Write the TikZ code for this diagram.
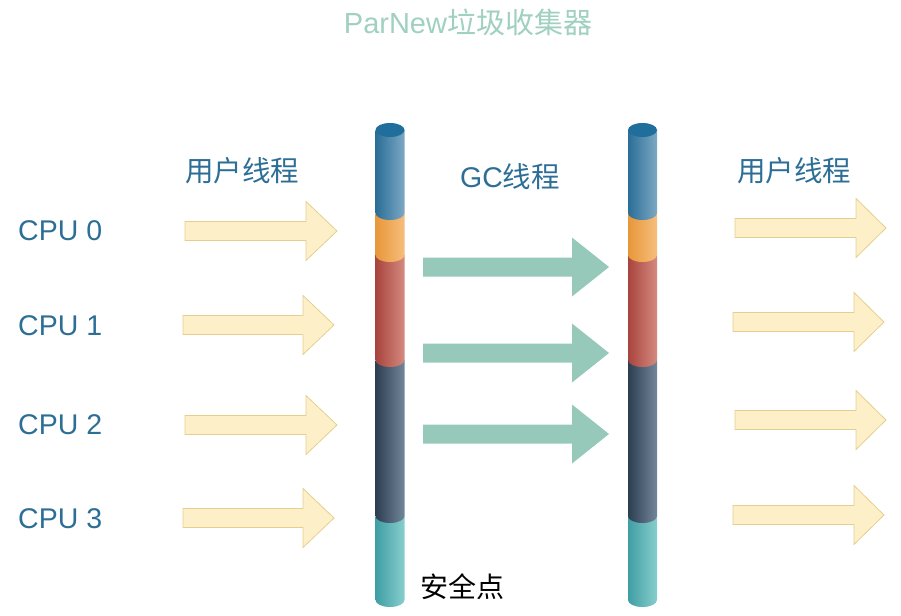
\documentclass[tikz,border=0pt]{standalone}
\usepackage{fontspec}
\setmainfont{Liberation Sans}
\newfontfamily\cjk{Noto Sans CJK SC}
\definecolor{cpublue}{HTML}{2C6E96}
\definecolor{titlegreen}{HTML}{9FD0C0}
\definecolor{argold}{HTML}{FDF0C8}
\definecolor{argoldline}{HTML}{E6CF8E}
\definecolor{gcgreen}{HTML}{97C9BB}
\definecolor{topblue}{HTML}{1F6E9C}
\definecolor{tealL}{HTML}{3F9EA4}
\definecolor{tealR}{HTML}{88CECD}
\definecolor{darkL}{HTML}{2C3E50}
\definecolor{darkR}{HTML}{74869B}
\definecolor{redL}{HTML}{A8443E}
\definecolor{redR}{HTML}{D58A7F}
\definecolor{orangeL}{HTML}{E8973A}
\definecolor{orangeR}{HTML}{F6BE7C}
\definecolor{blueL}{HTML}{2A6E97}
\definecolor{blueR}{HTML}{7DA8C4}

\begin{document}
\begin{tikzpicture}[x=1pt,y=-1pt,
  lbl/.style={text=cpublue,inner sep=0pt,anchor=west,font=\fontsize{28.5}{30}\selectfont},
  yarrow/.style={fill=argold,draw=argoldline,line width=0.8pt,line join=miter},
  garrow/.style={fill=gcgreen}]

\newcommand\Rx{14.5}
\newcommand\Ry{7}
%% fat arrow: start x, tip x, y, head length, style
\newcommand\fatarrow[5]{
\path[#5](#1,#3-9.5) -- (#2-#4,#3-9.5) -- (#2-#4,#3-29.5) -- (#2,#3)
  -- (#2-#4,#3+29.5) -- (#2-#4,#3+9.5) -- (#1,#3+9.5) -- cycle;}
%% one piece of a column: x, top, bottom, colour
\newcommand\piece[4]{
\shade[left color=#4L,right color=#4R](#1-\Rx,#2) -- (#1-\Rx,#3)
  arc[start angle=180,end angle=360,x radius=\Rx pt,y radius=\Ry pt]
  -- (#1+\Rx,#2) -- cycle;}
\newcommand\column[1]{
\piece{#1}{516}{600}{teal}
\piece{#1}{360}{516}{dark}
\piece{#1}{255}{360}{red}
\piece{#1}{213}{255}{orange}
\piece{#1}{130}{213}{blue}
\fill[topblue](#1,130) ellipse[x radius=\Rx pt,y radius=\Ry pt];}

\useasboundingbox (0,0) rectangle (901,615);

\node[text=titlegreen,font=\fontsize{29}{31}\selectfont](title) at (468,22) {ParNew\cjk 垃圾收集器};

\column{390}
\column{642.5}

%% user threads before the safepoint
\fatarrow{185}{337}{231}{31}{yarrow}
\fatarrow{183}{334}{325}{31}{yarrow}
\fatarrow{185}{337}{425}{31}{yarrow}
\fatarrow{183}{334}{518}{31}{yarrow}

%% gc threads
\fatarrow{423}{609}{267}{37}{garrow}
\fatarrow{423}{609}{353}{37}{garrow}
\fatarrow{423}{609}{434}{37}{garrow}

%% user threads after
\fatarrow{735}{886}{228}{30}{yarrow}
\fatarrow{733}{884}{322}{30}{yarrow}
\fatarrow{735}{886}{420}{30}{yarrow}
\fatarrow{733}{884}{515}{30}{yarrow}

\node[lbl](cpu0) at (18,231) {CPU 0};
\node[lbl](cpu1) at (18,326) {CPU 1};
\node[lbl](cpu2) at (18,425) {CPU 2};
\node[lbl](cpu3) at (18,519) {CPU 3};

\node[lbl,font=\cjk\fontsize{28.5}{30}\selectfont](userl) at (185,171) {用户线程};
\node[lbl](gc) at (460,177) {GC\cjk 线程};
\node[lbl,font=\cjk\fontsize{28.5}{30}\selectfont](userr) at (737,171) {用户线程};
\node[lbl,text=black,font=\cjk\fontsize{28}{30}\selectfont](safe) at (420,587) {安全点};

\end{tikzpicture}
\end{document}
